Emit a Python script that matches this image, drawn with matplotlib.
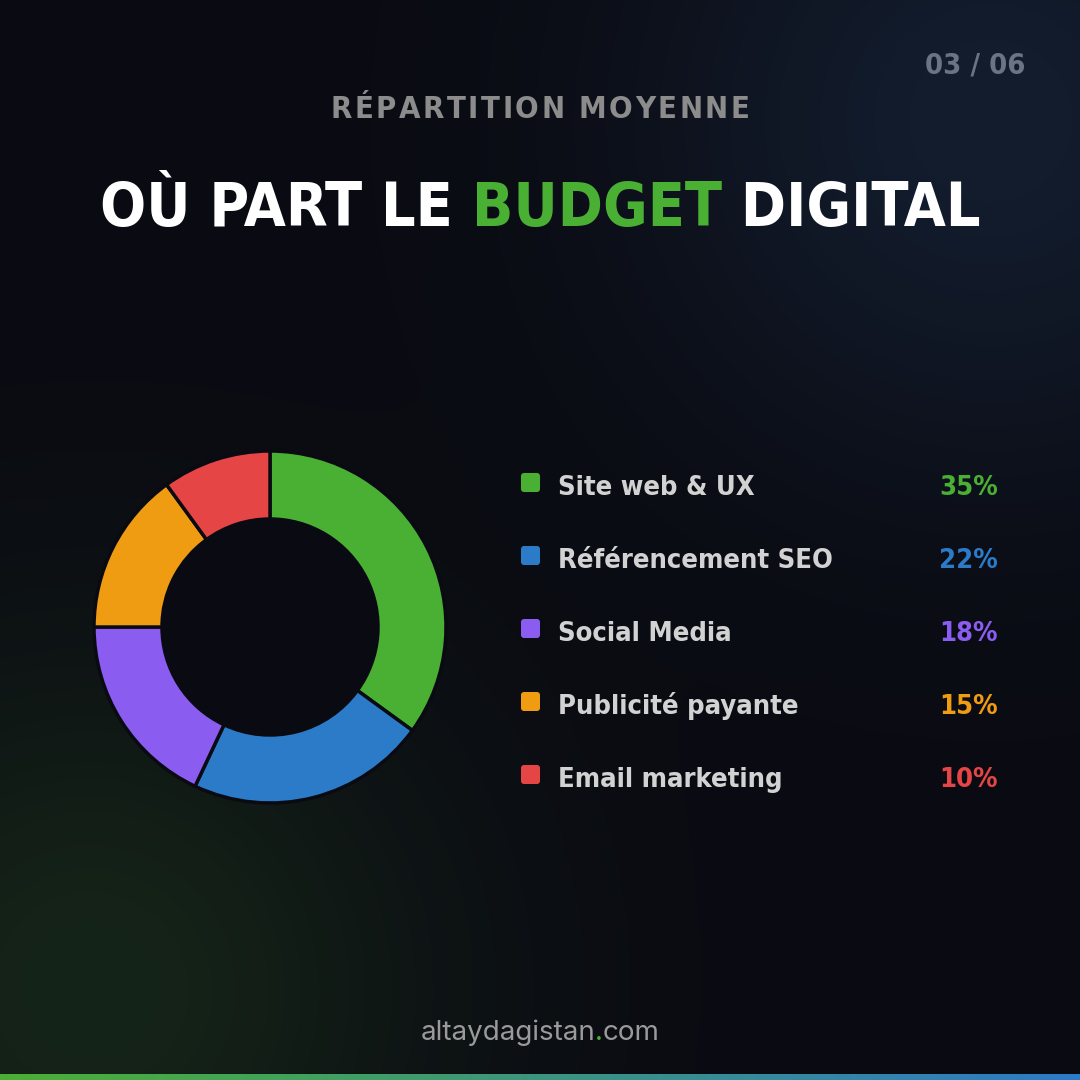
import os
import matplotlib
matplotlib.use("Agg")
import matplotlib.pyplot as plt
import numpy as np
from matplotlib import font_manager
from matplotlib.font_manager import FontProperties

labels = ["Site web & UX", "Référencement SEO", "Social Media", "Publicité payante", "Email marketing"]
values = [35, 22, 18, 15, 10]
colors = ["#4ab034", "#2b7bc8", "#8b5cf0", "#f09c12", "#e64545"]

kicker = "RÉPARTITION MOYENNE"
title_parts = [("OÙ PART LE ", "#ffffff"), ("BUDGET", "#4ab034"), (" DIGITAL", "#ffffff")]
page = "03 / 06"
site = ("altaydagistan", ".", "com")

W = H = 1080
BG = "#0a0b12"


# look for a narrow bold face among the installed files
def find_narrow():
    files = [f.fname for f in font_manager.fontManager.ttflist]
    wanted = ["notosans-condensedbold", "notosans-semicondensedbold", "liberationsansnarrow-bold.",
              "dejavusanscondensed-bold.", "roboto-condensed-bold", "robotocondensed-bold"]
    for w in wanted:
        for f in files:
            b = os.path.basename(f).lower()
            if b.startswith(w) and "italic" not in b:
                return FontProperties(fname=f)
    for f in files:
        b = os.path.basename(f).lower()
        if ("condensed" in b or "narrow" in b) and "bold" in b and "italic" not in b \
                and "semibold" not in b and "extrabold" not in b:
            return FontProperties(fname=f)
    return FontProperties(family="Roboto", weight="bold")


COND = find_narrow()
names = {f.name for f in font_manager.fontManager.ttflist}
BODY = "Inter" if "Inter" in names else "DejaVu Sans"

fig = plt.figure(figsize=(W / 100, H / 100), dpi=100, facecolor=BG)

# background with soft glows
bg = fig.add_axes([0, 0, 1, 1])
bg.set_axis_off()
yy, xx = np.mgrid[0:H, 0:W]
base = np.array([10, 11, 18]) / 255
img = np.zeros((H, W, 3)) + base
blue = np.exp(-(((xx - 990) ** 2 + (yy - 120) ** 2) / (2 * 240.0 ** 2)))
green = np.exp(-(((xx - 90) ** 2 + (yy - 990) ** 2) / (2 * 240.0 ** 2)))
img += blue[..., None] * (np.array([19, 29, 46]) / 255 - base)
img += green[..., None] * (np.array([21, 36, 24]) / 255 - base)
bg.imshow(img, extent=[0, W, H, 0], aspect="auto")

# bottom gradient bar
grad = np.linspace(0, 1, 256)[None, :, None]
c1 = np.array([74, 176, 52]) / 255
c2 = np.array([43, 123, 200]) / 255
bar = c1 * (1 - grad) + c2 * grad
bg.imshow(bar, extent=[0, W, H, H - 6], aspect="auto", zorder=2)
bg.set_xlim(0, W)
bg.set_ylim(H, 0)

fig.canvas.draw()
renderer = fig.canvas.get_renderer()


def width_of(t):
    return t.get_window_extent(renderer).width


def fit(t, target):
    t.set_fontsize(t.get_fontsize() * target / width_of(t))


# kicker with letter spacing
tracking = 2.5
chars = []
for ch in kicker:
    t = bg.text(0, 118, ch, color="#8c8c8c", fontproperties=COND, fontsize=27, ha="left", va="baseline")
    chars.append(t)
ws = [width_of(t) for t in chars]
k = (420 - tracking * (len(ws) - 1)) / sum(ws)
for t in chars:
    t.set_fontsize(27 * k)
ws = [width_of(t) for t in chars]
total = sum(ws) + tracking * (len(ws) - 1)
x = 540 - total / 2
for t, w in zip(chars, ws):
    t.set_x(x)
    x += w + tracking

# title
parts = []
for s, c in title_parts:
    t = bg.text(0, 226, s, color=c, fontproperties=COND, fontsize=62, ha="left", va="baseline")
    parts.append(t)
k = 880 / sum(width_of(t) for t in parts)
for t in parts:
    t.set_fontsize(62 * k)
ws = [width_of(t) for t in parts]
x = 540 - sum(ws) / 2
for t, w in zip(parts, ws):
    t.set_x(x)
    x += w

pg = bg.text(1025, 74, page, color="#6b7482", fontproperties=COND, fontsize=22, ha="right", va="baseline")
fit(pg, 100)

# donut
R = 176
ax = fig.add_axes([(270 - 180) / W, (H - 627 - 180) / H, 360 / W, 360 / H])
ax.pie(values, colors=colors, startangle=90, counterclock=False, radius=1,
       wedgeprops=dict(width=1 - 108 / R, edgecolor=BG, linewidth=2.5))
ax.add_patch(plt.Circle((0, 0), 108 / R - 0.005, color=BG, zorder=3))
ax.set_xlim(-180 / R, 180 / R)
ax.set_ylim(-180 / R, 180 / R)
ax.set_aspect("equal")
ax.set_axis_off()

# legend
lab_texts = []
for i, (lab, val, col) in enumerate(zip(labels, values, colors)):
    y = 483 + i * 73
    bg.add_patch(matplotlib.patches.FancyBboxPatch((521, y - 10), 19, 19, boxstyle="round,pad=0,rounding_size=3",
                                                   facecolor=col, edgecolor="none"))
    t = bg.text(558, y + 12, lab, color="#d2d2d2", fontproperties=COND, fontsize=23, ha="left", va="baseline")
    lab_texts.append(t)
    p = bg.text(998, y + 12, f"{val}%", color=col, fontproperties=COND, fontsize=23, ha="right", va="baseline")
    lab_texts.append(p)
k = 275 / width_of(lab_texts[2])
for t in lab_texts:
    t.set_fontsize(23 * k)

# footer
pieces = []
for s, c in zip(site, ["#9a9a9a", "#4ab034", "#9a9a9a"]):
    t = bg.text(0, 1040, s, color=c, fontsize=20, ha="left", va="baseline", family=BODY)
    pieces.append(t)
ws = [width_of(t) for t in pieces]
x = 540 - sum(ws) / 2
for t, w in zip(pieces, ws):
    t.set_x(x)
    x += w

fig.savefig("out.png", dpi=100, facecolor=BG)
